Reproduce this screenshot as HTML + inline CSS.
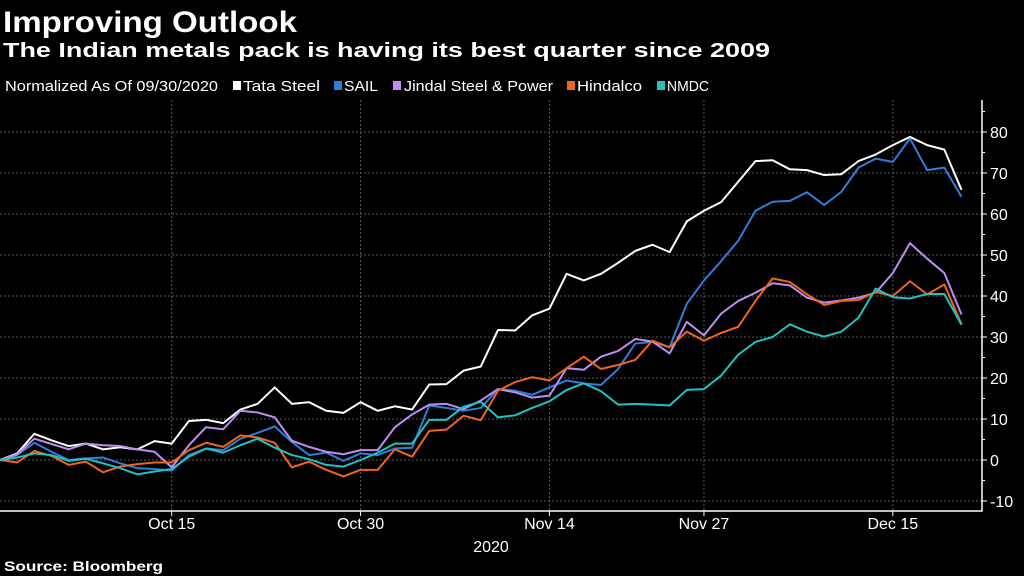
<!DOCTYPE html>
<html><head><meta charset="utf-8"><style>
body{margin:0;background:#000;width:1024px;height:576px;overflow:hidden;font-family:"Liberation Sans",sans-serif;color:#fff}
svg{position:absolute;left:0;top:0}
</style></head><body>
<svg width="1024" height="576" id="svg">
<text x="3" y="32" font-size="30" font-weight="bold" fill="#fff" textLength="294" lengthAdjust="spacingAndGlyphs">Improving Outlook</text>
<text x="3" y="57" font-size="20" font-weight="bold" fill="#fff" textLength="767" lengthAdjust="spacingAndGlyphs">The Indian metals pack is having its best quarter since 2009</text>
<g font-size="15" fill="#fff">
<text x="5" y="91" textLength="213" lengthAdjust="spacingAndGlyphs">Normalized As Of 09/30/2020</text>
<rect x="233" y="81" width="8" height="9" fill="#fff"/><text x="243" y="91" textLength="77" lengthAdjust="spacingAndGlyphs">Tata Steel</text>
<rect x="334" y="81" width="8" height="9" fill="#2f7fd8"/><text x="344" y="91" textLength="34" lengthAdjust="spacingAndGlyphs">SAIL</text>
<rect x="393" y="81" width="8" height="9" fill="#c08cf0"/><text x="404" y="91" textLength="149" lengthAdjust="spacingAndGlyphs">Jindal Steel &amp; Power</text>
<rect x="567" y="81" width="8" height="9" fill="#f0641e"/><text x="577" y="91" textLength="65" lengthAdjust="spacingAndGlyphs">Hindalco</text>
<rect x="657" y="81" width="8" height="9" fill="#1ec3c3"/><text x="667" y="91" textLength="42" lengthAdjust="spacingAndGlyphs">NMDC</text>
</g>
<g id="grid"></g><g id="axes"></g><g id="lines"></g>
<text x="491" y="552" font-size="16" fill="#fff" text-anchor="middle">2020</text>
<text x="4" y="571" font-size="14" font-weight="bold" fill="#fff" textLength="159" lengthAdjust="spacingAndGlyphs">Source: Bloomberg</text>
</svg>
<script>
const xTickLabels=["Oct 15","Oct 30","Nov 14","Nov 27","Dec 15"];
const xTickIndex=[10,21,32,41,52];
const yTicks=[-10,0,10,20,30,40,50,60,70,80];
const tata=[0,1.6,6.4,4.8,3.4,4,2.6,3.1,2.6,4.6,4,9.5,9.8,9,12.3,13.7,17.7,13.7,14.1,12,11.5,14.1,12,13.1,12.3,18.4,18.5,21.8,22.8,31.7,31.6,35.3,36.9,45.4,43.8,45.4,48.1,51,52.5,50.7,58.2,60.8,62.9,67.9,72.9,73.1,70.9,70.7,69.5,69.7,72.9,74.5,76.8,78.8,76.8,75.7,65.9];
const sail=[0,1.2,4.2,2,0,0.4,0.6,-0.8,-2,-2.2,-2.6,1.2,2.8,2.4,5.2,6.6,8.2,4.4,1.2,1.8,-0.2,1.6,1.2,2.8,3,13.3,12.7,12,12.7,17.3,16.9,15.9,17.7,19.4,18.7,18.3,22.2,28.4,28.8,27.5,38.1,43.8,48.5,53.5,60.8,63,63.2,65.3,62.2,65.4,71.3,73.5,72.7,78.4,70.7,71.3,64.2];
const jindal=[0,1.4,5.2,3.9,2.6,4,3.6,3.4,2.6,2,-1.8,3.6,8,7.5,12,11.6,10.4,4.7,3.2,2,1.4,2.4,2.4,8,11.1,13.5,13.7,12.4,14.5,17.3,16.5,15.2,15.7,22.4,22,25.2,26.6,29.5,28.9,26,33.7,30.4,35.7,38.8,40.8,43.1,42.6,39.6,38.4,38.9,39.6,40.8,45.6,52.9,49.1,45.6,35.5];
const hindalco=[0,-0.6,2.2,1,-1.2,-0.4,-3,-1.6,-1,-0.6,-0.6,2.4,4.2,3.2,6,5.5,4.2,-1.8,-0.4,-2.4,-4,-2.4,-2.4,2.6,0.8,7.1,7.4,10.8,9.7,16.9,19,20.2,19.4,22.4,25.2,22.2,23.2,24.4,29.1,27.5,31.3,29.1,31,32.5,38.8,44.3,43.4,40.4,37.8,38.8,39,41,40,43.6,40.4,42.8,33.1];
const nmdc=[0,0.6,1.6,1.2,-0.2,0.3,-0.8,-2,-3.5,-2.8,-2.2,0.8,2.8,1.8,3.6,5.2,3,1.2,0.2,-1.2,-1.6,0,1.8,4,4,9.8,9.8,13,14.2,10.4,10.9,12.7,14.3,17.1,18.7,16.8,13.5,13.7,13.5,13.3,17.1,17.3,20.6,25.7,28.8,30,33.1,31.3,30.1,31.3,34.7,41.8,39.7,39.4,40.5,40.5,33];
const NS="http://www.w3.org/2000/svg";
const L=0,R=982,T=100,B=511,step=961.5/56;
const xs=i=>L+i*step;
const ys=v=>460-v*4.1;
function mk(tag,attrs,parent){const e=document.createElementNS(NS,tag);for(const k in attrs)e.setAttribute(k,attrs[k]);document.getElementById(parent).appendChild(e);return e;}
yTicks.forEach(v=>{
 const g=mk('line',{x1:L,x2:R,y1:ys(v),y2:ys(v),stroke:'#5a5a5a','stroke-width':1,'stroke-dasharray':'2,2'},'grid');
 
 
 const t=mk('text',{x:R+8,y:ys(v)+6,'font-size':16,fill:'#fff'},'axes');t.textContent=v;
 
 
 mk('line',{x1:R,x2:R+5,y1:ys(v),y2:ys(v),stroke:'#fff'},'axes');
 mk('line',{x1:R,x2:R+3,y1:ys(v+5),y2:ys(v+5),stroke:'#fff'},'axes');
});
xTickIndex.forEach((idx,k)=>{
 const x=xs(idx);
 const g=mk('line',{x1:x,x2:x,y1:T,y2:B,stroke:'#5a5a5a','stroke-width':1,'stroke-dasharray':'2,2'},'grid');
 
 
 mk('line',{x1:x,x2:x,y1:B,y2:B+5,stroke:'#fff'},'axes');
 const t=mk('text',{x:x,y:529,'font-size':16,fill:'#fff','text-anchor':'middle'},'axes');t.textContent=xTickLabels[k];
 
 
});
const ax=mk('path',{d:`M${L} ${B}H${R}V${T}`,stroke:'#fff',fill:'none','stroke-width':1.5},'axes');


[[tata,'#ffffff','tata-steel-line'],[sail,'#2f7fd8','sail-line'],[jindal,'#c08cf0','jindal-line'],[hindalco,'#f0641e','hindalco-line'],[nmdc,'#1ec3c3','nmdc-line']].forEach(([d,c,n])=>{
 const p=mk('polyline',{points:d.map((v,i)=>xs(i)+','+ys(v)).join(' '),stroke:c,fill:'none','stroke-width':2,'stroke-linejoin':'round'},'lines');
 
 
});
</script>
</body></html>
